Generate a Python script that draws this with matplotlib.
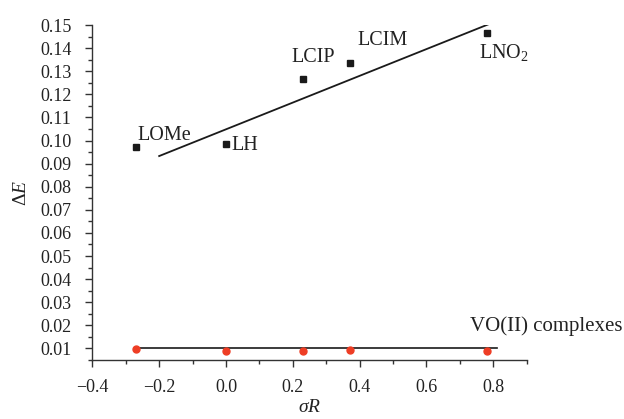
import matplotlib
matplotlib.use("Agg")
import matplotlib.pyplot as plt
from matplotlib.ticker import MultipleLocator

plt.rcParams['font.family'] = ['Liberation Serif', 'DejaVu Serif']
plt.rcParams['mathtext.fontset'] = 'custom'
plt.rcParams['mathtext.rm'] = 'Liberation Serif'
plt.rcParams['mathtext.it'] = 'Liberation Serif:italic'

# Ligand data (black squares)
ligands = ["LOMe", "LH", "LCIP", "LCIM", "LNO$_2$"]
sigma_r = [-0.27, 0.00, 0.23, 0.37, 0.78]
delta_e_ligand = [0.0972, 0.0985, 0.1265, 0.1338, 0.1464]

# Fit line for ligands
fit_x = [-0.20, 0.80]
fit_y = [0.0933, 0.1512]

# VO(II) complexes (red circles)
delta_e_complex = [0.0096, 0.0090, 0.0090, 0.0093, 0.0090]
complex_fit_x = [-0.27, 0.81]
complex_fit_y = [0.0102, 0.0102]

# Label offsets (data units) relative to each point
label_dx = [0.006, 0.016, -0.033, 0.024, -0.024]
label_dy = [0.0052, -0.0005, 0.0095, 0.0095, -0.0082]

fig = plt.figure(figsize=(6.24, 4.19), dpi=100)
ax = fig.add_axes([0.148, 0.141, 0.696, 0.799])

ax.plot(fit_x, fit_y, color="#1a1a1a", lw=1.3)
ax.plot(sigma_r, delta_e_ligand, ls="none", marker="s", ms=5, color="#1a1a1a")
ax.plot(complex_fit_x, complex_fit_y, color="#1a1a1a", lw=1.2)
ax.plot(sigma_r, delta_e_complex, ls="none", marker="o", ms=5, color="#ee3d24")

for name, x, y, dx, dy in zip(ligands, sigma_r, delta_e_ligand, label_dx, label_dy):
    ax.text(x + dx, y + dy, name, fontsize=14.5, ha="left", va="center", color="#222222")

ax.text(0.73, 0.0196, "VO(II) complexes", fontsize=15, ha="left", va="center", color="#222222")

ax.set_xlim(-0.4, 0.9)
ax.set_ylim(0.005, 0.15)
ax.xaxis.set_minor_locator(MultipleLocator(0.1))
ax.yaxis.set_minor_locator(MultipleLocator(0.005))

ax.set_xticks([-0.4, -0.2, 0.0, 0.2, 0.4, 0.6, 0.8])
ax.set_xticklabels(["\u22120.4", "\u22120.2", "0.0", "0.2", "0.4", "0.6", "0.8"])
yt = [0.01 * i for i in range(1, 16)]
ax.set_yticks(yt)
ax.set_yticklabels([f"{v:.2f}" for v in yt])

for s in ["top", "right"]:
    ax.spines[s].set_visible(False)
for s in ["left", "bottom"]:
    ax.spines[s].set_color("#333333")
    ax.spines[s].set_linewidth(1.0)

ax.tick_params(which="major", direction="out", length=5, width=1, colors="#333333", labelsize=13, labelcolor="#222222")
ax.tick_params(which="minor", direction="out", length=3, width=1, colors="#333333")
ax.tick_params(axis="x", which="major", pad=9)
ax.tick_params(axis="y", which="major", pad=10)

ax.set_xlabel(r"$\sigma R$", fontsize=14, color="#222222", labelpad=2)
ax.set_ylabel(r"$\Delta E$", fontsize=14, color="#222222", labelpad=7)

fig.savefig("out.png", dpi=100)
